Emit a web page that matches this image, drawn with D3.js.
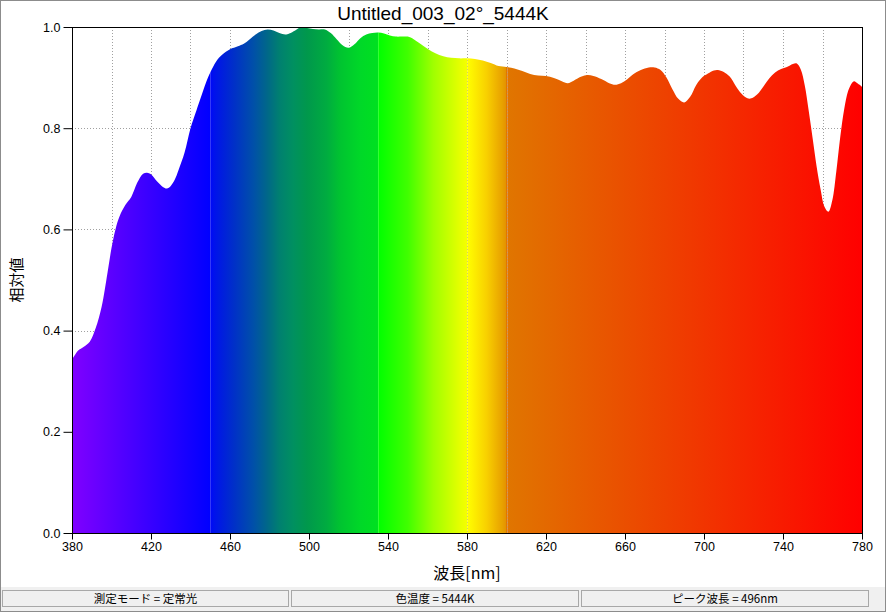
<!DOCTYPE html>
<html><head><meta charset="utf-8">
<script src="https://cdnjs.cloudflare.com/ajax/libs/d3/7.8.5/d3.min.js"></script>
<style>body{margin:0;background:#fff;}svg{display:block;}</style>
</head><body>
<script>
const titleText = "Untitled_003_02°_5444K";
const xLabel = "波長[nm]";
const yLabel = "相対値";
const statusTexts = ["測定モード = 定常光", "色温度 = 5444K", "ピーク波長 = 496nm"];
const xTicks = [380,420,460,500,540,580,620,660,700,740,780];
const yTicks = [0,0.2,0.4,0.6,0.8,1.0];
const wavelengths = [380,383,386,389,392,395,398,400,402,404,407,410,413,416,418,420,423,426,428,430,432,434,437,440,443,445,448,450,453,456,460,464,467,470,473,476,479,482,485,488,490,493,496,499,502,505,508,511,514,517,520,523,526,529,532,535,538,541,544,547,550,553,556,560,564,568,572,576,580,584,588,592,596,600,604,608,612,616,620,624,628,631,634,638,641,644,648,652,655,658,661,664,668,672,675,678,681,684,687,690,693,696,699,702,705,707,710,713,716,719,722,724,727,730,733,736,739,742,745,747,749,751,753,755,757,759,761,763,765,767,769,771,773,775,776,778,780];
const relValues = [0.342,0.360,0.368,0.378,0.405,0.447,0.515,0.563,0.600,0.625,0.648,0.664,0.692,0.710,0.712,0.709,0.695,0.684,0.681,0.686,0.698,0.718,0.752,0.800,0.835,0.858,0.892,0.910,0.932,0.945,0.956,0.962,0.967,0.976,0.985,0.992,0.995,0.993,0.988,0.985,0.987,0.993,1.000,0.998,0.996,0.995,0.995,0.988,0.976,0.964,0.959,0.966,0.978,0.985,0.988,0.989,0.987,0.983,0.981,0.981,0.981,0.976,0.968,0.957,0.948,0.942,0.939,0.938,0.938,0.937,0.934,0.929,0.923,0.921,0.918,0.913,0.907,0.904,0.903,0.899,0.893,0.889,0.894,0.902,0.905,0.903,0.897,0.889,0.886,0.889,0.896,0.906,0.915,0.920,0.920,0.915,0.900,0.877,0.858,0.851,0.862,0.885,0.900,0.908,0.914,0.915,0.911,0.902,0.884,0.868,0.859,0.859,0.867,0.882,0.898,0.910,0.917,0.921,0.927,0.928,0.916,0.885,0.835,0.780,0.725,0.680,0.645,0.635,0.658,0.715,0.783,0.838,0.874,0.890,0.893,0.888,0.882];
// spectrum colour stops (wavelength, colour)
const stopNm = [380,450,450,452,462,472,479,485,492,499,509,516,526,535,535,550,563,577,580,580,590,598,600,600,780];
const stopColors = ["#8000ff","#0000ff","#0008f8","#0012ec","#0030c8","#0050a8","#006888","#008070","#009060","#00984c","#00ac40","#00c430","#00d828","#00e020","#00ff00","#40ff00","#a0ff00","#e8ff00","#f4ff00","#ffff00","#f8d000","#e8a000","#e49000","#e07600","#ff0000"];
const seamNm = [450,535,580,600];

const W=886,H=612;
const svg = d3.select("body").append("svg").attr("width",W).attr("height",H);
const font = "'Liberation Sans', Arial, sans-serif";
const cjk = "'Noto Sans CJK JP', 'Liberation Sans', sans-serif";

const x = d3.scaleLinear().domain([380,780]).range([72,862]);
const y = d3.scaleLinear().domain([0,1]).range([533,27]);

// gradient
const defs = svg.append("defs");
const grad = defs.append("linearGradient").attr("id","spec").attr("gradientUnits","userSpaceOnUse")
  .attr("x1",x(380)).attr("x2",x(780)).attr("y1",0).attr("y2",0);
stopNm.forEach((n,i)=>grad.append("stop").attr("offset",(n-380)/400).attr("stop-color",stopColors[i]));

const data = wavelengths.map((w,i)=>[w,relValues[i]]);
const area = d3.area().x(d=>x(d[0])).y0(y(0)).y1(d=>y(d[1])).curve(d3.curveCatmullRom.alpha(0.5));
defs.append("clipPath").attr("id","areaClip").append("path").attr("d",area(data));

// grid
const grid = svg.append("g").attr("stroke","#a0a0a0").attr("stroke-width",1).attr("stroke-dasharray","1,2");
d3.range(400,780,20).forEach(n=>{
  grid.append("line").attr("x1",Math.round(x(n))+0.5).attr("x2",Math.round(x(n))+0.5).attr("y1",y(1)).attr("y2",y(0));
});
[0.2,0.4,0.6,0.8].forEach(v=>{
  grid.append("line").attr("y1",Math.round(y(v))+0.5).attr("y2",Math.round(y(v))+0.5).attr("x1",x(380)).attr("x2",x(780));
});

// spectrum area
svg.append("path").attr("d",area(data)).attr("fill","url(#spec)");
// seams
const seams = svg.append("g").attr("clip-path","url(#areaClip)");
seamNm.forEach(n=>{
  const px = Math.round(x(n))+0.5;
  seams.append("line").attr("x1",px).attr("x2",px).attr("y1",y(1)).attr("y2",y(0))
    .attr("stroke","#ffffff").attr("stroke-opacity",0.2);
  if (n%20===0) seams.append("line").attr("x1",px).attr("x2",px).attr("y1",y(1)).attr("y2",y(0))
    .attr("stroke","#a0a0a0").attr("stroke-opacity",0.5).attr("stroke-dasharray","1,2");
});

// frame
svg.append("rect").attr("x",72.5).attr("y",27.5).attr("width",x(780)-x(380)).attr("height",y(0)-y(1))
  .attr("fill","none").attr("stroke","#000");

// axes
const xAxis = svg.append("g").attr("transform",`translate(0,${y(0)+0.5})`)
  .call(d3.axisBottom(x).tickValues(xTicks).tickFormat(d3.format("d")).tickSizeInner(6).tickSizeOuter(0).tickPadding(3));
const yAxis = svg.append("g").attr("transform",`translate(${x(380)+0.5},0)`)
  .call(d3.axisLeft(y).tickValues(yTicks).tickFormat(d3.format(".1f")).tickSizeInner(9).tickSizeOuter(0).tickPadding(3));
[xAxis,yAxis].forEach(a=>{
  a.select(".domain").remove();
  a.selectAll("text").attr("font-family",font).attr("font-size","12.5px").attr("fill","#000");
  a.selectAll("line").attr("stroke","#000");
});

// titles
svg.append("text").attr("x",443).attr("y",20).attr("text-anchor","middle").attr("font-family",font)
  .attr("font-size","19px").attr("fill","#000").text(titleText);
svg.append("text").attr("x",(x(380)+x(780))/2).attr("y",579).attr("text-anchor","middle").attr("font-family",cjk)
  .attr("font-size","16px").attr("fill","#000").text(xLabel);
svg.append("text").attr("transform",`translate(22,${(y(0)+y(1))/2}) rotate(-90)`).attr("text-anchor","middle")
  .attr("font-family",cjk).attr("font-size","15px").attr("fill","#000").text(yLabel);

// status bar
svg.append("rect").attr("x",0).attr("y",587).attr("width",W).attr("height",H-587).attr("fill","#f0f0f0");
const panels = [[2,289],[291,579],[581,869]];
panels.forEach((p,i)=>{
  svg.append("rect").attr("x",p[0]+0.5).attr("y",590.5).attr("width",p[1]-p[0]-1).attr("height",16)
    .attr("fill","#f0f0f0").attr("stroke","#a8a8a8");
  svg.append("text").attr("x",(p[0]+p[1])/2).attr("y",603).attr("text-anchor","middle")
    .attr("font-family",cjk).attr("font-size","11.5px").attr("fill","#000").text(statusTexts[i]);
});
// window border
svg.append("rect").attr("x",0.5).attr("y",0.5).attr("width",W-1).attr("height",H-1).attr("fill","none").attr("stroke","#8c8c8c");
</script>
</body></html>
